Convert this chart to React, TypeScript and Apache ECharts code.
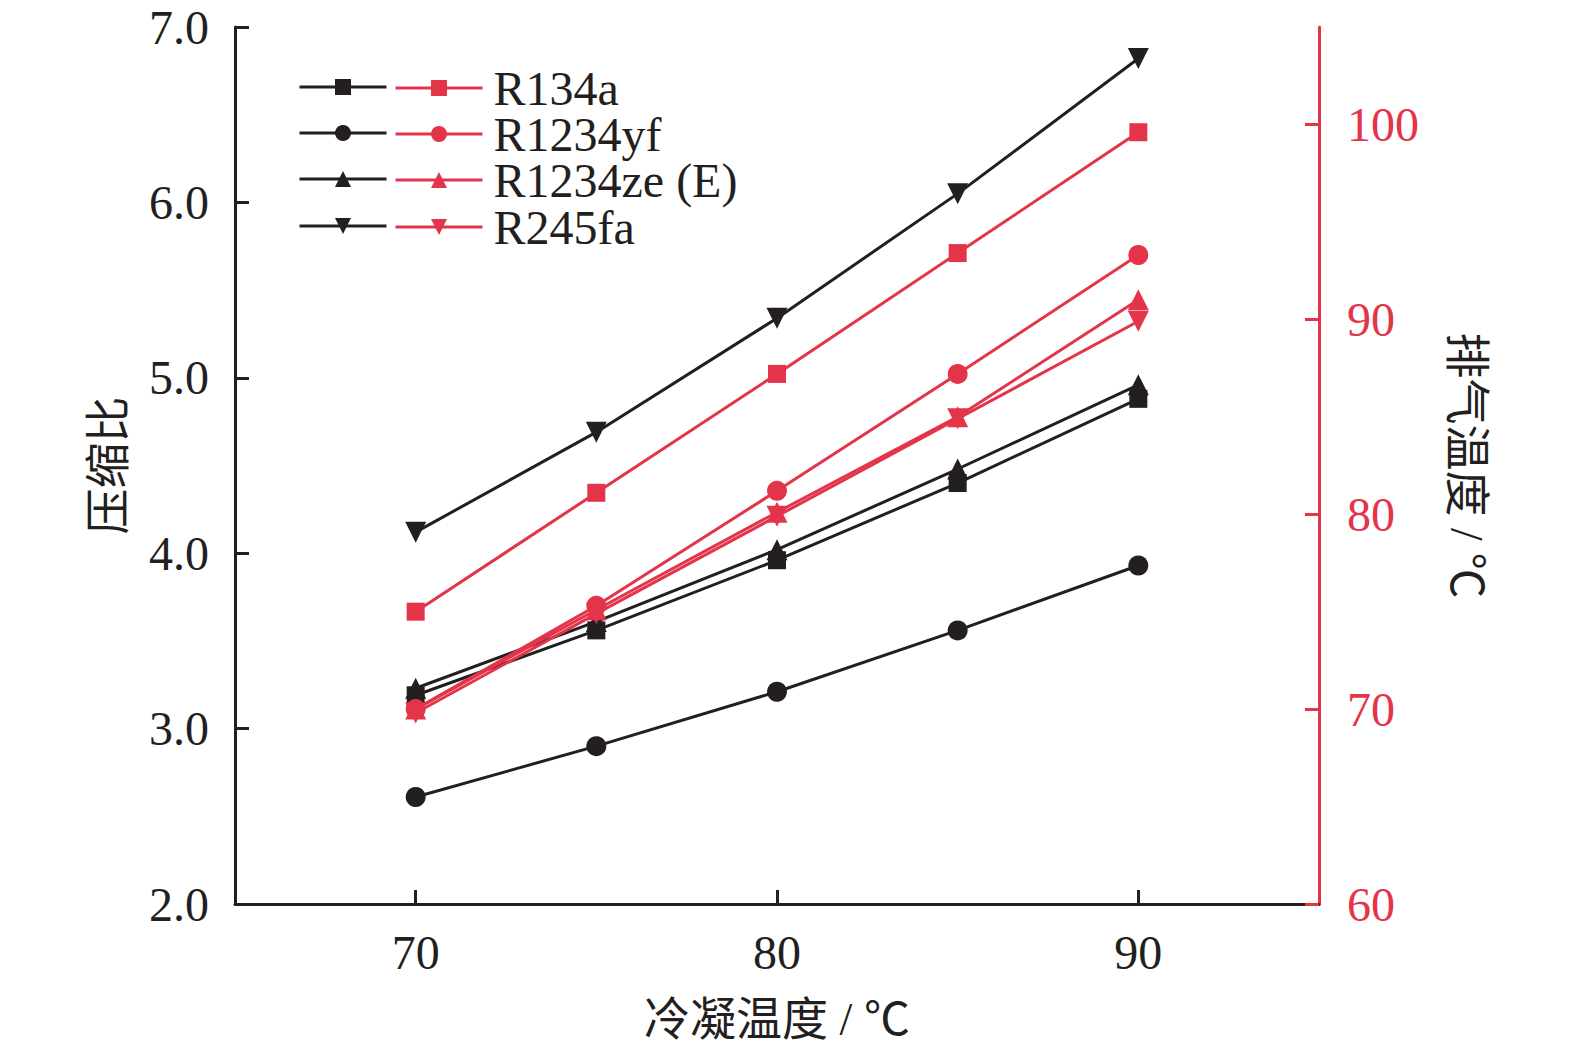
import React, { useEffect, useRef } from 'react';
import * as echarts from 'echarts';

const temps = [70, 75, 80, 85, 90];
const names = ['R134a', 'R1234yf', 'R1234ze (E)', 'R245fa'];

// compression ratio (left axis)
const ratioR134a = [3.19, 3.56, 3.96, 4.4, 4.88];
const ratioR1234yf = [2.61, 2.9, 3.21, 3.56, 3.93];
const ratioR1234ze = [3.23, 3.61, 4.02, 4.48, 4.96];
const ratioR245fa = [4.12, 4.69, 5.34, 6.05, 6.82];

// discharge temperature (right axis)
const tempR134a = [75.0, 81.1, 87.2, 93.4, 99.6];
const tempR1234yf = [70.0, 75.3, 81.2, 87.2, 93.3];
const tempR1234ze = [70.0, 75.1, 80.1, 85.0, 91.0];
const tempR245fa = [69.8, 74.9, 79.9, 84.9, 89.9];

const xTicks = [70, 80, 90];
const rightTicks = [60, 70, 80, 90, 100];

const BLACK = '#231f20';
const RED = '#e3344a';
const FONT = "'Liberation Serif', 'Times New Roman', 'Noto Sans CJK SC', serif";

const symbols = ['rect', 'circle', 'triangle', 'path://M0,0 L10,0 L5,9 Z'];
const symbolSizes = [18, 20, 21, 21];
const legendRows = [87, 133, 179, 226];

const App: React.FC = () => {
  const chartRef = useRef<HTMLDivElement>(null);

  useEffect(() => {
    const chart = echarts.init(chartRef.current!, undefined, { renderer: 'svg' });

    const ratios = [ratioR134a, ratioR1234yf, ratioR1234ze, ratioR245fa];
    const outlet = [tempR134a, tempR1234yf, tempR1234ze, tempR245fa];

    const mk = (name: string, vals: number[], i: number, color: string, yAxisIndex: number) => ({
      name,
      type: 'line',
      yAxisIndex,
      data: temps.map((t, k) => [t, vals[k]]),
      symbol: symbols[i],
      symbolSize: symbolSizes[i],
      lineStyle: { color, width: 3 },
      itemStyle: { color },
    });

    const blackSeries = ratios.map((v, i) => mk(names[i] + ' ', v, i, BLACK, 0));
    const redSeries = outlet.map((v, i) => mk(names[i], v, i, RED, 1));

    // one legend per row so both columns line up
    const blackLegends = names.map((n, i) => ({
      data: [n + ' '],
      left: 298,
      top: legendRows[i] - 10,
      padding: 0,
      itemWidth: 87,
      itemHeight: 20,
      lineStyle: { width: 3 },
      formatter: () => '',
      selectedMode: false,
    }));
    const redLegends = names.map((n, i) => ({
      data: [n],
      left: 394,
      top: legendRows[i] - 23,
      padding: 0,
      itemWidth: 87,
      itemHeight: 20,
      lineStyle: { width: 3 },
      selectedMode: false,
      textStyle: { fontSize: 48, lineHeight: 46, color: BLACK, fontFamily: FONT, padding: [0, 0, 0, 6] },
    }));

    const option: any = {
      animation: false,
      textStyle: { fontFamily: FONT },
      grid: { left: 235, right: 256, top: 27, bottom: 146, containLabel: false, outerBoundsMode: 'none' },
      legend: [...blackLegends, ...redLegends],
      xAxis: {
        type: 'value',
        min: 65,
        max: 95,
        name: '冷凝温度 / ℃',
        nameLocation: 'middle',
        nameGap: 92,
        nameTextStyle: { fontSize: 46, lineHeight: 46, color: BLACK, fontFamily: FONT },
        axisLine: { lineStyle: { color: BLACK, width: 3 } },
        axisTick: { inside: true, length: 14, customValues: xTicks, lineStyle: { color: BLACK, width: 3 } },
        axisLabel: { customValues: xTicks, fontSize: 48, lineHeight: 48, color: BLACK, margin: 24, fontFamily: FONT },
        splitLine: { show: false },
      },
      yAxis: [
        {
          type: 'value',
          min: 2,
          max: 7,
          interval: 1,
          name: '压缩比',
          nameLocation: 'middle',
          nameGap: 104,
          nameTextStyle: { fontSize: 46, lineHeight: 46, color: BLACK, fontFamily: FONT },
          axisLine: { show: true, lineStyle: { color: BLACK, width: 3 } },
          axisTick: { inside: true, length: 14, lineStyle: { color: BLACK, width: 3 } },
          axisLabel: {
            fontSize: 48,
            lineHeight: 46,
            color: BLACK,
            margin: 26,
            fontFamily: FONT,
            formatter: (v: number) => v.toFixed(1),
          },
          splitLine: { show: false },
        },
        {
          type: 'value',
          position: 'right',
          min: 60,
          max: 105,
          interval: 10,
          name: '排气温度 / ℃',
          nameLocation: 'middle',
          nameRotate: -90,
          nameGap: 124,
          nameTextStyle: { fontSize: 46, lineHeight: 46, color: BLACK, fontFamily: FONT },
          axisLine: { show: true, lineStyle: { color: RED, width: 3 } },
          axisTick: { inside: true, length: 14, customValues: rightTicks, lineStyle: { color: RED, width: 3 } },
          axisLabel: { customValues: rightTicks, fontSize: 48, lineHeight: 46, color: RED, margin: 28, fontFamily: FONT },
          splitLine: { show: false },
        },
      ],
      series: [...blackSeries, ...redSeries],
    };

    chart.setOption(option);
    return () => {
      chart.dispose();
    };
  }, []);

  return (
    <div
      ref={chartRef}
      style={{ position: 'absolute', left: 0, top: 0, width: '1575px', height: '1050px' }}
    />
  );
};

export default App;
